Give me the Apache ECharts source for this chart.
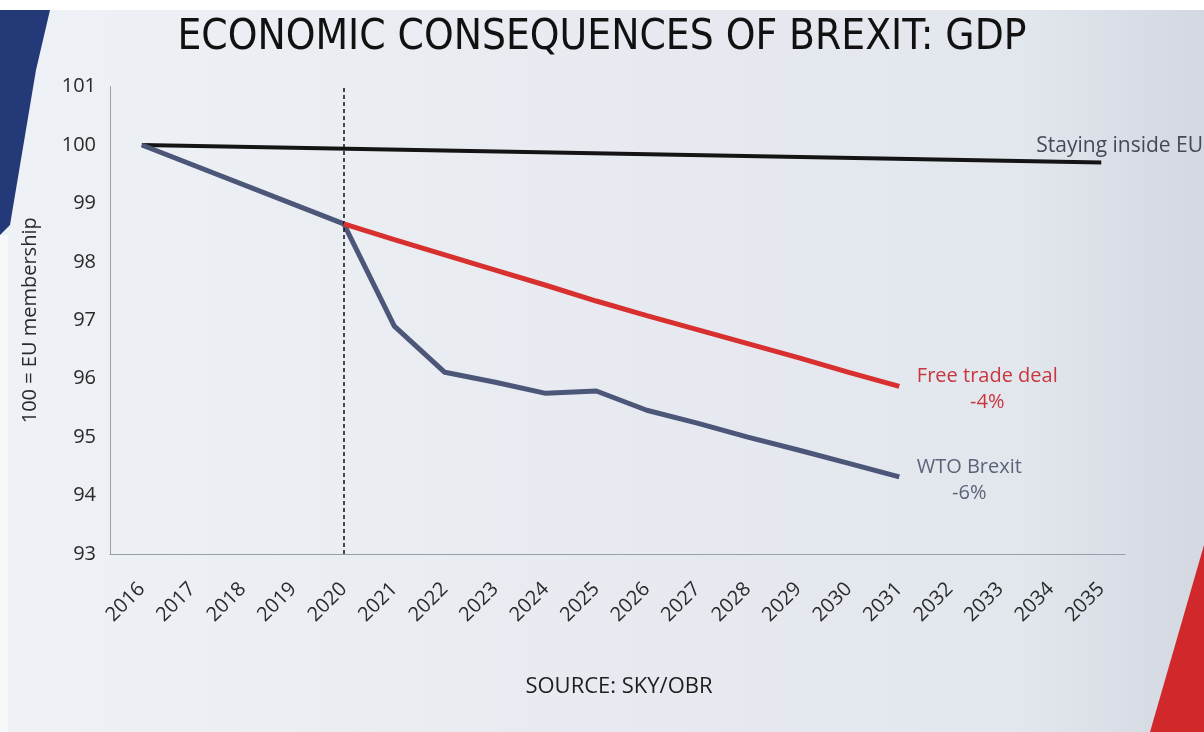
<!DOCTYPE html>
<html>
<head>
<meta charset="utf-8">
<script src="https://cdn.jsdelivr.net/npm/echarts@6/dist/echarts.min.js"></script>
<style>
html,body{margin:0;padding:0;background:#fff;}
#chart{width:1204px;height:732px;}
</style>
</head>
<body>
<div id="chart"></div>
<script>
const years = [2016,2017,2018,2019,2020,2021,2022,2023,2024,2025,2026,2027,2028,2029,2030,2031,2032,2033,2034,2035];
const stayYears = [2016, 2035];
const stayValues = [100, 99.7];
const wtoYears = [2016,2020,2021,2022,2023,2024,2025,2026,2027,2028,2029,2030,2031];
const wtoValues = [100,98.65,96.90,96.11,95.94,95.75,95.79,95.46,95.24,95.00,94.78,94.55,94.32];
const ftaYears = [2020,2021,2022,2023,2024,2025,2026,2027,2028,2029,2030,2031];
const ftaValues = [98.65,98.38,98.12,97.86,97.60,97.33,97.08,96.84,96.60,96.36,96.11,95.87];
const yTicks = [93,94,95,96,97,98,99,100,101];
const referendumYear = 2020;

const zip = (xs, ys) => xs.map((x, i) => [x, ys[i]]);

const chart = echarts.init(document.getElementById('chart'));
chart.setOption({
  backgroundColor: {
    type: 'linear', x: 0, y: 0, x2: 1, y2: 0,
    colorStops: [{offset: 0, color: '#eef1f5'}, {offset: 0.85, color: '#e2e6ed'}, {offset: 1, color: '#d3d8e1'}]
  },
  animation: false,
  graphic: [
    {type: 'rect', shape: {x: 0, y: 0, width: 1204, height: 10}, style: {fill: '#ffffff'}, z: -1},
    {type: 'rect', shape: {x: 0, y: 235, width: 8, height: 497}, style: {fill: '#f7f8fa'}, z: -1},
    {type: 'polygon', shape: {points: [[0, 10], [50, 10], [36, 70], [10, 225], [0, 235]]}, style: {fill: '#243a78'}, z: -1},
    {type: 'polygon', shape: {points: [[1204, 545], [1204, 732], [1150, 732]]}, style: {fill: '#d0282b'}, z: -1}
  ],
  title: [{
    text: 'ECONOMIC CONSEQUENCES OF BREXIT: GDP',
    left: 597, top: 12, textAlign: 'center',
    textStyle: {fontFamily: 'Liberation Sans Narrow, DejaVu Sans Condensed, Open Sans', fontSize: 42, fontWeight: 'normal', color: '#111'}
  }, {
    text: 'SOURCE: SKY/OBR',
    left: 614, top: 671, textAlign: 'center',
    textStyle: {fontFamily: 'Open Sans', fontSize: 22, fontWeight: 'normal', color: '#1e1e1e'}
  }],
  grid: {left: 110, right: 79, top: 86.6, bottom: 178},
  xAxis: {
    type: 'value', min: 2015.37, max: 2035.47,
    axisLine: {show: true, lineStyle: {color: '#9a9ea6', width: 1}},
    axisTick: {show: false},
    splitLine: {show: false},
    axisLabel: {
      customValues: years, rotate: 45, margin: 32,
      fontFamily: 'Open Sans', fontSize: 20, color: '#2a2a2a',
      formatter: v => String(v)
    }
  },
  yAxis: {
    type: 'value', min: 93, max: 101, interval: 1,
    name: '100 = EU membership', nameLocation: 'middle', nameGap: 70, nameRotate: 90,
    nameTextStyle: {fontFamily: 'Open Sans', fontSize: 20, color: '#2a2a2a'},
    axisLine: {show: true, lineStyle: {color: '#9a9ea6', width: 1}},
    axisTick: {show: false},
    splitLine: {show: false},
    axisLabel: {customValues: yTicks, margin: 14, fontFamily: 'Open Sans', fontSize: 20, color: '#2a2a2a'}
  },
  series: [{
    name: 'Staying inside EU', type: 'line', data: zip(stayYears, stayValues),
    symbol: 'none', lineStyle: {color: '#141414', width: 4}, z: 3,
    endLabel: {show: true, formatter: 'Staying inside EU', offset: [-73, -17],
      fontFamily: 'Open Sans', fontSize: 21, color: '#444a55'}
  }, {
    name: 'WTO Brexit', type: 'line', data: zip(wtoYears, wtoValues),
    symbol: 'none', lineStyle: {color: '#4b5678', width: 5}, z: 4,
    endLabel: {show: true, formatter: 'WTO Brexit\n-6%', align: 'center', lineHeight: 26, offset: [62, 3],
      fontFamily: 'Open Sans', fontSize: 20, color: '#5d6478'},
    markLine: {
      silent: true, symbol: 'none', label: {show: false},
      lineStyle: {color: '#111', type: [4, 3], width: 1.5},
      data: [{xAxis: referendumYear}]
    }
  }, {
    name: 'Free trade deal', type: 'line', data: zip(ftaYears, ftaValues),
    symbol: 'none', lineStyle: {color: '#d8302f', width: 5}, z: 5,
    endLabel: {show: true, formatter: 'Free trade deal\n-4%', align: 'center', lineHeight: 26, offset: [80, 3],
      fontFamily: 'Open Sans', fontSize: 20, color: '#c8363e'}
  }]
});
</script>
</body>
</html>
